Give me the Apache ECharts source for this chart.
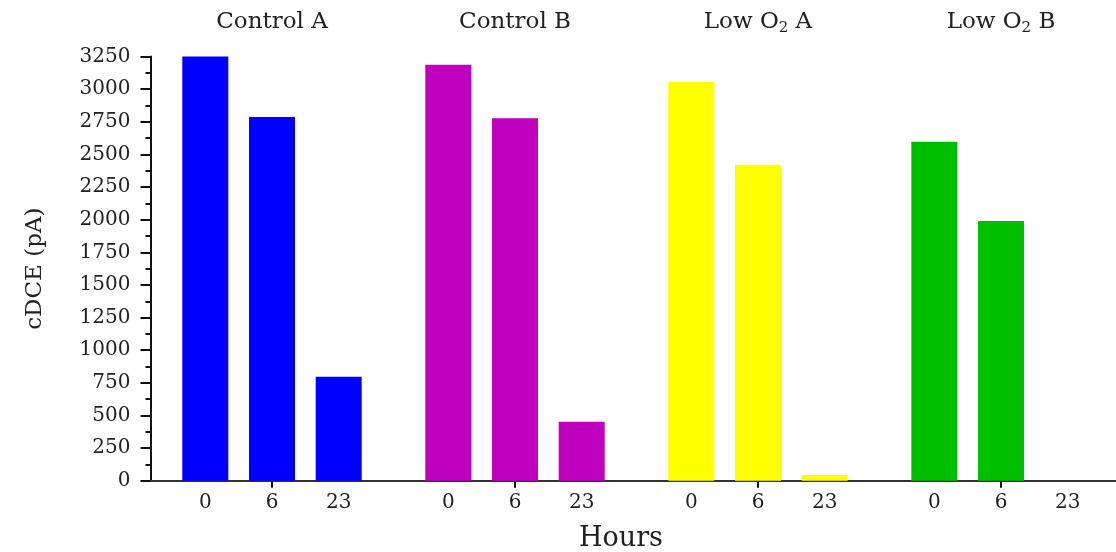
<!DOCTYPE html>
<html>
<head>
<meta charset="utf-8">
<script src="https://cdn.jsdelivr.net/npm/echarts@6/dist/echarts.min.js"></script>
<style>
html,body{margin:0;padding:0;background:#fff;}
#chart{width:1116px;height:552px;}
</style>
</head>
<body>
<div id="chart"></div>
<script>
// ---- data ----
const groups = ['Control A', 'Control B', 'Low O2 A', 'Low O2 B'];
const hours = ['0', '6', '23'];
const hour0 = [3250, 3188, 3055, 2598];
const hour6 = [2787, 2777, 2421, 1990];
const hour23 = [797, 452, 44, 0];
const yMin = 0, yMax = 3250, yStep = 250;

// ---- styles ----
const groupColors = ['#0000FF', '#BF00BF', '#FFFF00', '#00BF00'];
const FONT = 'DejaVu Serif';
const seriesValues = [hour0, hour6, hour23];

const chart = echarts.init(document.getElementById('chart'), null, {renderer: 'canvas'});

const series = hours.map((h, si) => ({
  name: h,
  type: 'bar',
  xAxisIndex: 0,
  barWidth: 46,
  barGap: '45%',
  data: seriesValues[si].map((v, gi) => ({value: v, itemStyle: {color: groupColors[gi]}})),
  label: {
    show: true,
    position: 'bottom',
    distance: 12,
    formatter: '{a}',
    fontFamily: FONT,
    fontSize: 20,
    color: '#222'
  },
  emphasis: {disabled: true}
}));

const option = {
  animation: false,
  backgroundColor: '#fff',
  grid: {left: 150.5, right: -6.5, top: 56.6, bottom: 71.3, containLabel: false, outerBoundsMode: 'none'},
  xAxis: [
    {
      type: 'category',
      data: groups,
      position: 'bottom',
      axisLine: {show: true, lineStyle: {color: '#333', width: 2}},
      axisTick: {show: true, alignWithLabel: true, interval: 0, length: 7, lineStyle: {color: '#111', width: 2}},
      axisLabel: {show: false},
      splitLine: {show: false},
      name: 'Hours',
      nameLocation: 'middle',
      nameGap: 45,
      nameTextStyle: {fontFamily: FONT, fontSize: 27, color: '#222', padding: [0, 31, 0, 0]}
    },
    {
      type: 'category',
      data: groups,
      position: 'top',
      axisLine: {show: false},
      axisTick: {show: false},
      splitLine: {show: false},
      axisLabel: {
        show: true,
        interval: 0,
        margin: 22,
        fontFamily: FONT,
        fontSize: 23,
        lineHeight: 25,
        color: '#222',
        formatter: (name) => name.replace('O2', 'O{s|2}'),
        rich: {
          s: {fontFamily: FONT, fontSize: 15, lineHeight: 15, padding: [13, 0, 0, 0], color: '#222'}
        }
      }
    }
  ],
  yAxis: {
    type: 'value',
    min: yMin,
    max: yMax,
    interval: yStep,
    axisLine: {show: true, lineStyle: {color: '#111', width: 2}},
    axisTick: {show: true, inside: false, length: 10, lineStyle: {color: '#111', width: 2}},
    minorTick: {show: true, splitNumber: 2, length: 5, lineStyle: {color: '#111', width: 2}},
    splitLine: {show: false},
    axisLabel: {margin: 20, fontFamily: FONT, fontSize: 20, color: '#222', formatter: (v) => String(v)},
    name: 'cDCE (pA)',
    nameLocation: 'middle',
    nameGap: 104,
    nameRotate: 90,
    nameTextStyle: {fontFamily: FONT, fontSize: 23, color: '#222'}
  },
  series: series
};

chart.setOption(option);
</script>
</body>
</html>
